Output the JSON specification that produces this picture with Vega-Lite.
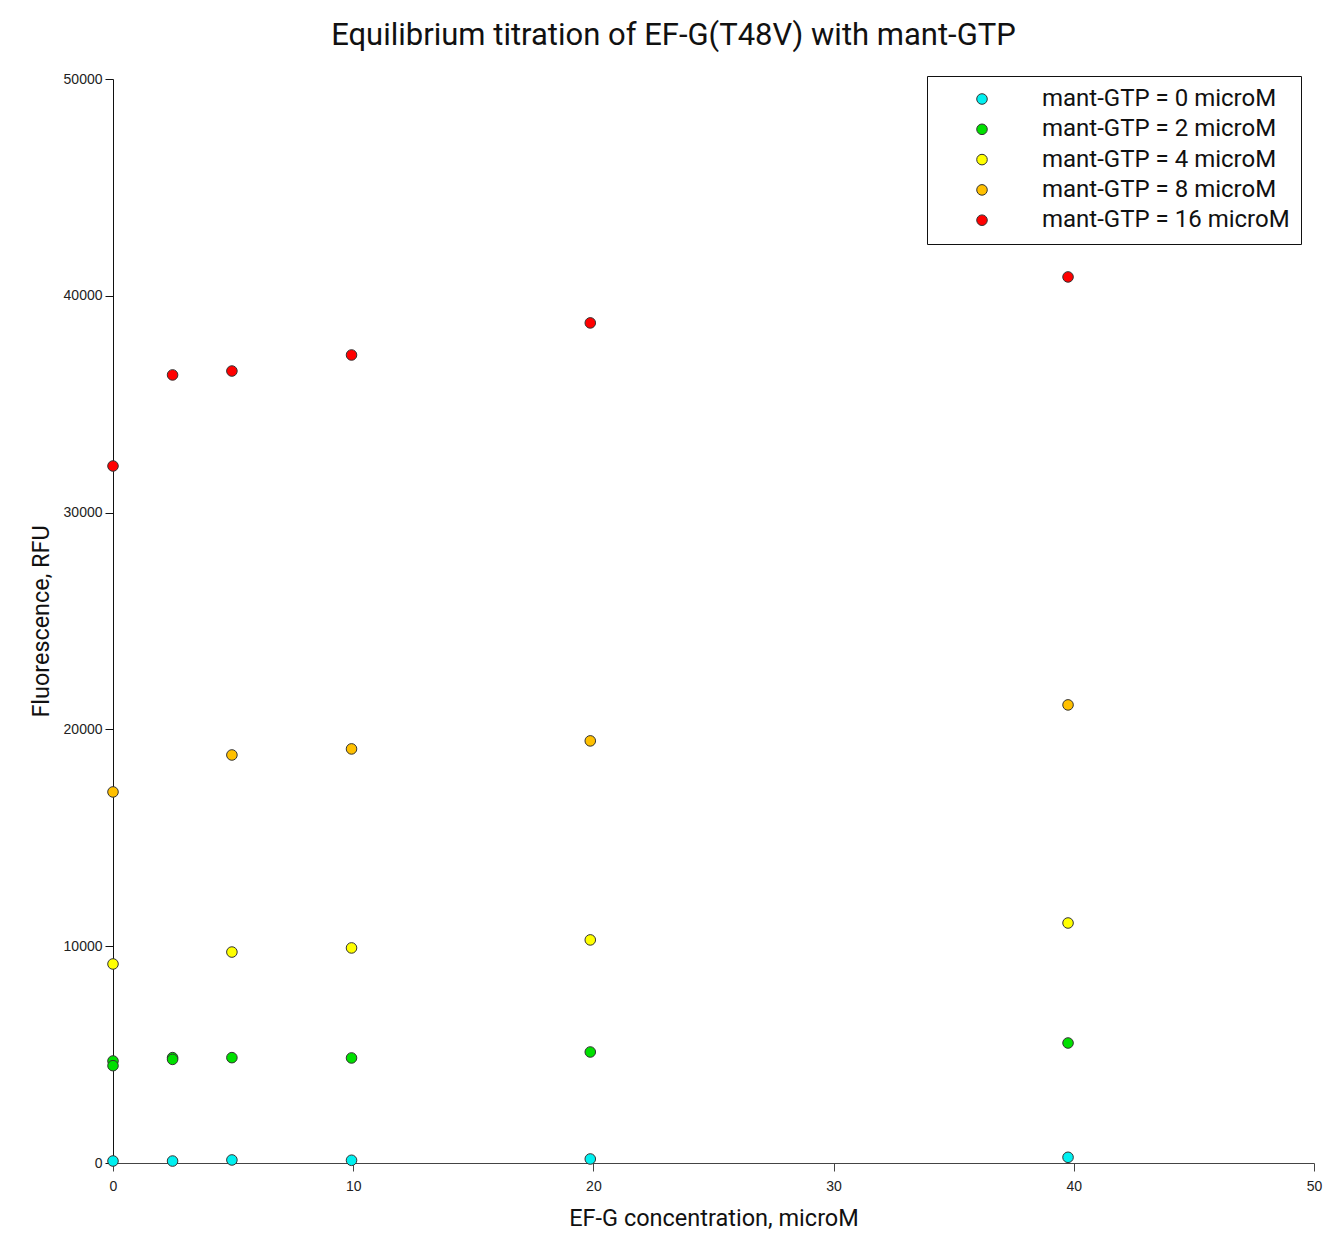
{
  "$schema": "https://vega.github.io/schema/vega-lite/v6.json",
  "width": 1201,
  "height": 1084,
  "autosize": {"type": "none"},
  "padding": {"left": 113, "top": 79, "right": 13, "bottom": 80},
  "background": "white",
  "config": {"view": {"stroke": null}},
  "title": {
    "text": "Equilibrium titration of EF-G(T48V) with mant-GTP",
    "font": "Roboto",
    "fontSize": 31,
    "fontWeight": "normal",
    "color": "#111",
    "anchor": "middle",
    "dx": -40,
    "offset": 20
  },
  "data": {
    "values": [
      {"x": 0, "y": 92, "s": "mant-GTP = 0 microM"},
      {"x": 2.48, "y": 90, "s": "mant-GTP = 0 microM"},
      {"x": 4.95, "y": 140, "s": "mant-GTP = 0 microM"},
      {"x": 9.93, "y": 125, "s": "mant-GTP = 0 microM"},
      {"x": 19.87, "y": 185, "s": "mant-GTP = 0 microM"},
      {"x": 39.76, "y": 263, "s": "mant-GTP = 0 microM"},
      {"x": 0, "y": 4705, "s": "mant-GTP = 2 microM"},
      {"x": 0, "y": 4490, "s": "mant-GTP = 2 microM"},
      {"x": 2.48, "y": 4860, "s": "mant-GTP = 2 microM"},
      {"x": 2.48, "y": 4780, "s": "mant-GTP = 2 microM"},
      {"x": 4.95, "y": 4860, "s": "mant-GTP = 2 microM"},
      {"x": 9.93, "y": 4845, "s": "mant-GTP = 2 microM"},
      {"x": 19.87, "y": 5120, "s": "mant-GTP = 2 microM"},
      {"x": 39.76, "y": 5535, "s": "mant-GTP = 2 microM"},
      {"x": 0, "y": 9180, "s": "mant-GTP = 4 microM"},
      {"x": 4.95, "y": 9730, "s": "mant-GTP = 4 microM"},
      {"x": 9.93, "y": 9920, "s": "mant-GTP = 4 microM"},
      {"x": 19.87, "y": 10290, "s": "mant-GTP = 4 microM"},
      {"x": 39.76, "y": 11070, "s": "mant-GTP = 4 microM"},
      {"x": 0, "y": 17115, "s": "mant-GTP = 8 microM"},
      {"x": 4.95, "y": 18820, "s": "mant-GTP = 8 microM"},
      {"x": 9.93, "y": 19100, "s": "mant-GTP = 8 microM"},
      {"x": 19.87, "y": 19470, "s": "mant-GTP = 8 microM"},
      {"x": 39.76, "y": 21130, "s": "mant-GTP = 8 microM"},
      {"x": 0, "y": 32150, "s": "mant-GTP = 16 microM"},
      {"x": 2.48, "y": 36350, "s": "mant-GTP = 16 microM"},
      {"x": 4.95, "y": 36530, "s": "mant-GTP = 16 microM"},
      {"x": 9.93, "y": 37270, "s": "mant-GTP = 16 microM"},
      {"x": 19.87, "y": 38750, "s": "mant-GTP = 16 microM"},
      {"x": 39.76, "y": 40870, "s": "mant-GTP = 16 microM"}
    ]
  },
  "mark": {"type": "point", "filled": true, "size": 112, "stroke": "#333", "strokeWidth": 1, "opacity": 1, "clip": false},
  "encoding": {
    "x": {
      "field": "x", "type": "quantitative",
      "scale": {"domain": [0, 50], "nice": false, "zero": false},
      "axis": {
        "values": [0, 10, 20, 30, 40, 50],
        "format": "d",
        "grid": false,
        "title": "EF-G concentration, microM",
        "titleFont": "Roboto", "titleFontSize": 23.5, "titleFontWeight": "normal", "titleColor": "#111",
        "titlePadding": 13,
        "labelFont": "Liberation Sans", "labelFontSize": 14, "labelColor": "#222",
        "labelPadding": 8,
        "domainColor": "#444", "tickColor": "#444", "tickSize": 8, "labelFlush": false,
        "labelOverlap": false
      }
    },
    "y": {
      "field": "y", "type": "quantitative",
      "scale": {"domain": [0, 50000], "nice": false},
      "axis": {
        "values": [0, 10000, 20000, 30000, 40000, 50000],
        "format": "d",
        "grid": false,
        "title": "Fluorescence, RFU",
        "titleFont": "Roboto", "titleFontSize": 23.4, "titleFontWeight": "normal", "titleColor": "#111",
        "titlePadding": 10,
        "labelFont": "Liberation Sans", "labelFontSize": 14, "labelColor": "#222",
        "labelPadding": 3,
        "domainColor": "#111", "tickColor": "#111", "tickSize": 8, "labelFlush": false,
        "labelOverlap": false
      }
    },
    "color": {
      "field": "s", "type": "nominal",
      "sort": ["mant-GTP = 0 microM", "mant-GTP = 2 microM", "mant-GTP = 4 microM", "mant-GTP = 8 microM", "mant-GTP = 16 microM"],
      "scale": {
        "domain": ["mant-GTP = 0 microM", "mant-GTP = 2 microM", "mant-GTP = 4 microM", "mant-GTP = 8 microM", "mant-GTP = 16 microM"],
        "range": ["#00f0f0", "#00e000", "#ffff00", "#ffc000", "#ff0000"]
      },
      "legend": {
        "title": null,
        "orient": "none",
        "legendX": 814,
        "legendY": -3,
        "padding": 11,
        "strokeColor": "#111",
        "fillColor": "white",
        "symbolType": "circle",
        "symbolSize": 112,
        "symbolStrokeColor": "#333",
        "symbolStrokeWidth": 1,
        "symbolOffset": 32,
        "labelOffset": 48,
        "labelFont": "Roboto",
        "labelFontSize": 24,
        "labelColor": "#111",
        "rowPadding": 6.3,
        "labelLimit": 400
      }
    }
  }
}
